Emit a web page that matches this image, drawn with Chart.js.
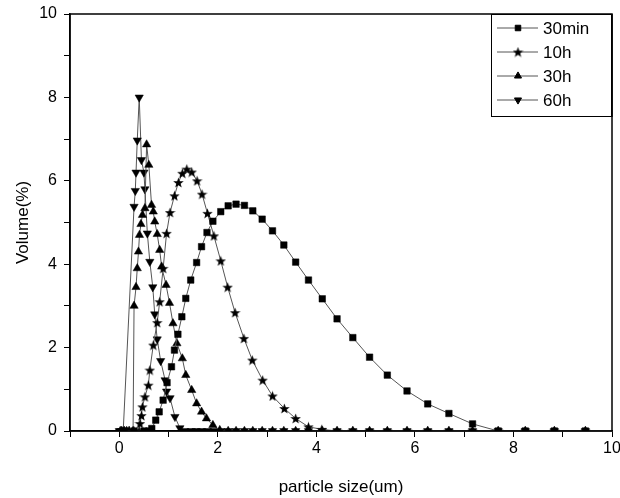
<!DOCTYPE html>
<html>
<head>
<meta charset="utf-8">
<script src="https://cdn.jsdelivr.net/npm/chart.js@4.4.0/dist/chart.umd.min.js"></script>
<style>
  html, body { margin: 0; padding: 0; background: #fff; }
  #wrap { width: 620px; height: 498px; }
</style>
</head>
<body>
<div id="wrap"><canvas id="myChart" width="620" height="498"></canvas></div>
<script>
// particle size (um) and volume (%)
let sizes30min = [0.1, 0.3, 0.5, 0.60, 0.66, 0.74, 0.81, 0.89, 0.97, 1.06, 1.12, 1.19, 1.27, 1.35, 1.45, 1.57, 1.67, 1.78, 1.90, 2.06, 2.21, 2.37, 2.54, 2.71, 2.90, 3.11, 3.34, 3.58, 3.84, 4.12, 4.42, 4.74, 5.08, 5.44, 5.84, 6.26, 6.69, 7.17, 7.69, 8.24, 8.83, 9.46, 10.14];
let volume30min = [0, 0, 0, 0, 0.06, 0.26, 0.46, 0.74, 1.16, 1.54, 1.94, 2.32, 2.74, 3.18, 3.62, 4.04, 4.42, 4.76, 5.03, 5.26, 5.40, 5.44, 5.41, 5.28, 5.08, 4.80, 4.46, 4.05, 3.62, 3.17, 2.69, 2.24, 1.77, 1.34, 0.96, 0.65, 0.42, 0.17, 0, 0, 0, 0, 0];

let sizes10h = [0.05, 0.1, 0.2, 0.3, 0.40, 0.42, 0.45, 0.47, 0.52, 0.59, 0.62, 0.69, 0.77, 0.82, 0.89, 0.96, 1.03, 1.12, 1.20, 1.28, 1.37, 1.47, 1.58, 1.68, 1.79, 1.92, 2.06, 2.20, 2.35, 2.53, 2.70, 2.91, 3.11, 3.35, 3.58, 3.84, 4.11, 4.42, 4.74, 5.08, 5.44, 5.84, 6.26, 6.69, 7.17, 7.69, 8.24, 8.83, 9.46, 10.14];
let volume10h = [0, 0, 0, 0, 0, 0.18, 0.37, 0.58, 0.82, 1.10, 1.46, 2.06, 2.60, 3.10, 3.90, 4.74, 5.24, 5.64, 5.96, 6.18, 6.28, 6.21, 6.00, 5.68, 5.22, 4.68, 4.08, 3.45, 2.84, 2.22, 1.70, 1.22, 0.84, 0.54, 0.30, 0.10, 0.04, 0, 0, 0, 0, 0, 0, 0, 0, 0, 0, 0, 0, 0];

let sizes30h = [0.02, 0.05, 0.1, 0.15, 0.2, 0.28, 0.30, 0.34, 0.365, 0.39, 0.41, 0.44, 0.47, 0.52, 0.555, 0.60, 0.655, 0.69, 0.72, 0.77, 0.82, 0.86, 0.95, 1.02, 1.09, 1.17, 1.28, 1.35, 1.47, 1.57, 1.67, 1.77, 1.90, 2.04, 2.21, 2.37, 2.54, 2.71, 2.90, 3.11, 3.34, 3.58, 3.84, 4.12, 4.42, 4.74, 5.08, 5.44, 5.84, 6.26, 6.69, 7.17, 7.69, 8.24, 8.83, 9.46, 10.14];
let volume30h = [0, 0, 0, 0, 0, 0, 3.00, 3.45, 3.90, 4.30, 4.70, 4.96, 5.18, 5.34, 6.87, 6.38, 5.42, 5.26, 5.02, 4.72, 4.34, 3.94, 3.50, 3.07, 2.58, 2.10, 1.74, 1.34, 0.98, 0.66, 0.46, 0.30, 0.14, 0.02, 0, 0, 0, 0, 0, 0, 0, 0, 0, 0, 0, 0, 0, 0, 0, 0, 0, 0, 0, 0, 0, 0, 0];

let sizes60h = [0.0, 0.03, 0.06, 0.08, 0.30, 0.325, 0.34, 0.365, 0.405, 0.45, 0.50, 0.52, 0.57, 0.62, 0.68, 0.72, 0.77, 0.84, 0.93, 0.96, 1.03, 1.13, 1.23, 1.33, 1.46, 1.56, 1.67, 1.79, 1.92, 2.06, 2.21, 2.37, 2.54, 2.71, 2.90, 3.11, 3.34, 3.58, 3.84, 4.12, 4.42, 4.74, 5.08, 5.44, 5.84, 6.26, 6.69, 7.17, 7.69, 8.24, 8.83, 9.46, 10.14];
let volume60h = [0, 0, 0, 0, 5.38, 5.76, 6.20, 6.97, 8.00, 6.50, 6.20, 5.80, 4.74, 4.06, 3.45, 2.80, 2.20, 1.68, 1.22, 0.95, 0.79, 0.34, 0.07, 0, 0, 0, 0, 0, 0, 0, 0, 0, 0, 0, 0, 0, 0, 0, 0, 0, 0, 0, 0, 0, 0, 0, 0, 0, 0, 0, 0, 0, 0];

let seriesNames = ["30min", "10h", "30h", "60h"];
let xTickLabels = [0, 2, 4, 6, 8, 10];
let yTickLabels = [0, 2, 4, 6, 8, 10];

let myChart;
const FONT = "'Liberation Sans', Arial, sans-serif";

function makeStar() {
  let c = document.createElement("canvas");
  c.width = 11;
  c.height = 11;
  let g = c.getContext("2d");
  g.fillStyle = "#000";
  g.beginPath();
  for (let i = 0; i < 10; i++) {
    let r = i % 2 === 0 ? 5.5 : 2.3;
    let a = -Math.PI / 2 + (i * Math.PI) / 5;
    g.lineTo(5.5 + r * Math.cos(a), 6 + r * Math.sin(a));
  }
  g.closePath();
  g.fill();
  return c;
}

function pairs(xs, ys) {
  return xs.map((x, i) => ({ x: x, y: ys[i] }));
}

function makeDataset(name, xs, ys, style, radius, rotation) {
  return {
    label: name,
    data: pairs(xs, ys),
    borderColor: "#555",
    borderWidth: 1,
    backgroundColor: "#000",
    pointBackgroundColor: "#000",
    pointBorderColor: "#000",
    pointBorderWidth: 0.5,
    pointStyle: style,
    pointRadius: radius,
    pointRotation: rotation,
    tension: 0,
  };
}

// frame around the plot and the boxed legend in the upper right
const framePlugin = {
  id: "frame",
  afterDraw(chart) {
    const ctx = chart.ctx;
    const a = chart.chartArea;
    ctx.save();
    ctx.strokeStyle = "#000";
    ctx.lineWidth = 1.5;
    ctx.strokeRect(a.left, a.top, a.right - a.left, a.bottom - a.top);

    let bx = 491, by = 14, bw = a.right - 491, bh = 103;
    ctx.fillStyle = "#fff";
    ctx.fillRect(bx, by, bw, bh);
    ctx.lineWidth = 1;
    ctx.strokeRect(bx + 0.5, by + 0.5, bw - 1, bh - 1);
    ctx.lineWidth = 1.5;
    ctx.beginPath();
    ctx.moveTo(a.right, a.top);
    ctx.lineTo(a.right, by + bh);
    ctx.stroke();

    chart.data.datasets.forEach((ds, i) => {
      let y = 28 + i * 24;
      ctx.strokeStyle = "#555";
      ctx.lineWidth = 1;
      ctx.beginPath();
      ctx.moveTo(497, y);
      ctx.lineTo(538, y);
      ctx.stroke();
      ctx.fillStyle = "#000";
      ctx.strokeStyle = "#000";
      Chart.helpers.drawPoint(ctx, {
        pointStyle: ds.pointStyle,
        rotation: ds.pointRotation,
        radius: ds.pointRadius * 0.85,
        borderWidth: 0.5,
      }, 518, y);
      ctx.fillStyle = "#000";
      ctx.font = "17px " + FONT;
      ctx.textAlign = "left";
      ctx.textBaseline = "middle";
      ctx.fillText(ds.label, 543, y + 1);
    });
    ctx.restore();
  },
};

function renderChart() {
  const ctx = document.getElementById("myChart");
  const star = makeStar();

  myChart = new Chart(ctx, {
    type: "line",
    data: {
      datasets: [
        makeDataset(seriesNames[0], sizes30min, volume30min, "rect", 4.6, 0),
        makeDataset(seriesNames[1], sizes10h, volume10h, star, 5, 0),
        makeDataset(seriesNames[2], sizes30h, volume30h, "triangle", 4.8, 0),
        makeDataset(seriesNames[3], sizes60h, volume60h, "triangle", 4.8, 180),
      ],
    },
    options: {
      responsive: false,
      animation: false,
      devicePixelRatio: 1,
      layout: { padding: { top: 14, right: 8, left: 0, bottom: 0 } },
      plugins: {
        legend: { display: false },
        tooltip: { enabled: false },
      },
      scales: {
        x: {
          type: "linear",
          min: -1,
          max: 10,
          afterFit: (s) => {
            s.height = 67;
            s.paddingLeft = 0;
            s.paddingRight = 0;
          },
          ticks: {
            stepSize: 1,
            autoSkip: false,
            maxRotation: 0,
            padding: 2,
            color: "#000",
            font: { family: FONT, size: 16 },
            callback: (v) => (xTickLabels.includes(v) ? v : ""),
          },
          grid: { drawOnChartArea: false, tickLength: 6, color: "#000" },
          border: { color: "#000", width: 1.5 },
          title: {
            display: true,
            text: "particle size(um)",
            color: "#000",
            font: { family: FONT, size: 17 },
            padding: { top: 2, bottom: 0 },
          },
        },
        y: {
          min: 0,
          max: 10,
          afterFit: (s) => {
            s.width = 70;
            s.paddingTop = 0;
            s.paddingBottom = 0;
          },
          ticks: {
            stepSize: 1,
            autoSkip: false,
            padding: 7,
            color: "#000",
            font: { family: FONT, size: 16 },
            callback: (v) => (yTickLabels.includes(v) ? v : ""),
          },
          grid: { drawOnChartArea: false, tickLength: 6, color: "#000" },
          border: { color: "#000", width: 1.5 },
          title: {
            display: true,
            text: "Volume(%)",
            color: "#000",
            font: { family: FONT, size: 17 },
            padding: { top: 13, bottom: 0 },
          },
        },
      },
    },
    plugins: [framePlugin],
  });
}

renderChart();
</script>
</body>
</html>
